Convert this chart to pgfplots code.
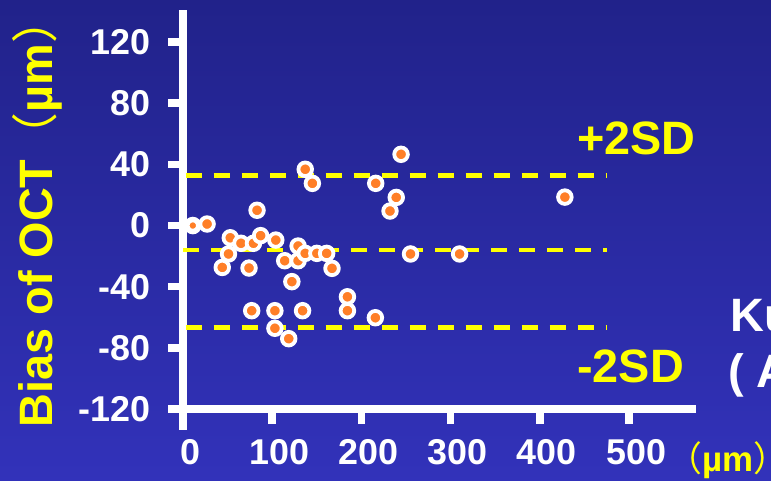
\documentclass[border=0pt]{standalone}
\usepackage{pgfplots}
\pgfplotsset{compat=1.18}
\usepackage{fontspec}
\setmainfont{Liberation Sans}
\newfontfamily\cjk{Noto Sans CJK SC}
\definecolor{bgtop}{RGB}{33,34,138}
\definecolor{bgbot}{RGB}{50,50,186}
\definecolor{dotor}{RGB}{255,127,39}
\definecolor{yel}{RGB}{255,255,0}
\begin{document}
\begin{tikzpicture}[x=1bp,y=1bp]
\useasboundingbox (0,0) rectangle (771,481);
\clip (0,0) rectangle (771,481);
\shade[top color=bgtop, bottom color=bgbot] (0,0) rectangle (771,481);
\begin{axis}[
  at={(183bp,72bp)}, anchor=south west,
  scale only axis, width=513bp, height=399bp,
  xmin=0, xmax=575, ymin=-120, ymax=141,
  axis x line*=bottom, axis y line*=left,
  x axis line style={white, line width=7.5bp, shorten <=-13bp},
  y axis line style={white, line width=7.5bp, shorten <=-21bp},
  xtick={0,100,200,300,400,500}, ytick={-120,-80,-40,0,40,80,120},
  tick align=outside, major tick length=15bp,
  tick style={white, line width=7.5bp},
  tick label style={white, font=\fontsize{36}{36}\selectfont\bfseries},
  /pgf/number format/assume math mode=true,
  xticklabel style={xshift=7bp, yshift=-12bp},
  yticklabel style={xshift=-14bp},
  ylabel={Bias of OCT{\cjk\mdseries （}µm{\cjk\mdseries ）}},
  every axis y label/.style={at={(axis description cs:-0.283,0.493)}, rotate=90, anchor=center,
     font=\fontsize{47}{47}\selectfont\bfseries, text=yel},
  clip=false,
]
\addplot[yel, line width=4.8bp, dash pattern=on 16bp off 12bp] coordinates {(3,32.5) (475,32.5)};
\addplot[yel, line width=4.8bp, dash pattern=on 16bp off 12bp] coordinates {(0,-16) (475,-16)};
\addplot[yel, line width=4.8bp, dash pattern=on 16bp off 12bp] coordinates {(3,-66.5) (475,-66.5)};
\addplot[only marks, mark=*, mark size=6bp, mark options={draw=white, fill=dotor, line width=5.5bp}]
  coordinates {(11,0)};
\addplot[only marks, mark=*, mark size=6.8bp, mark options={draw=white, fill=dotor, line width=3.8bp}]
  coordinates {
  (27,1) (83,10) (53,-8) (65,-11.6) (79,-11.6) (87,-6.6) (104,-9.5)
  (51,-18.6) (44,-27.4) (74,-27.8) (129,-13.4) (114,-23) (129,-23)
  (137,-18.2) (150,-18.2) (161,-18.2) (167,-28) (122,-36.7)
  (77,-55.7) (103,-55.7) (134,-55.7) (103,-67.2) (118.5,-74)
  (184.3,-46.6) (184.3,-55.7) (215.6,-60.3) (255,-18.6) (310,-18.6)
  (244.4,46.6) (137,36.8) (145,27.6) (216,27.6) (239,18.4) (232,9.5) (428,18.6)
  };
\end{axis}
\node[anchor=base west, inner sep=0, text=yel, font=\fontsize{47}{47}\selectfont\bfseries] at (577,326) {+2SD};
\node[anchor=base west, inner sep=0, text=yel, font=\fontsize{47}{47}\selectfont\bfseries] at (577,98) {-2SD};
\node[anchor=base west, inner sep=0, text=white, font=\fontsize{47}{47}\selectfont\bfseries] at (730,149) {Ku};
\node[anchor=base west, inner sep=0, text=white, font=\fontsize{47}{47}\selectfont\bfseries] at (728,93) {( A};
\node[anchor=base west, inner sep=0, text=yel, font=\fontsize{35}{35}\selectfont\bfseries] at (667,9) {{\cjk\mdseries （}µm{\cjk\mdseries ）}};
\end{tikzpicture}
\end{document}
